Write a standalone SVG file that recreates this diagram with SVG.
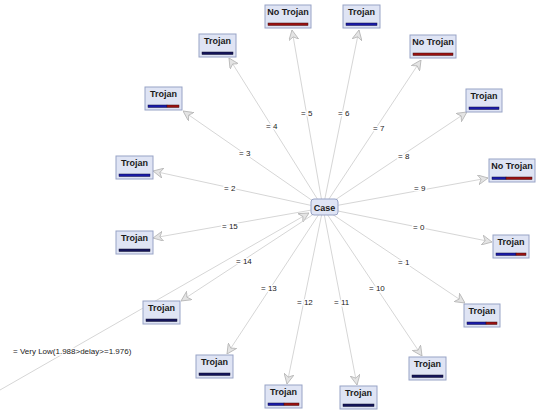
<svg xmlns="http://www.w3.org/2000/svg" width="540" height="413" viewBox="0 0 540 413">
<style>
.e{stroke:#d6d6d6;stroke-width:1;fill:none;marker-end:url(#ah)}
.l{font-family:"Liberation Sans",Arial,sans-serif;font-size:8px;fill:#222;stroke:#fff;stroke-width:3px;paint-order:stroke;stroke-linejoin:round}
.b{fill:#dfe4f4;stroke:#98a3c6;stroke-width:1}
.t{font-family:"Liberation Sans",Arial,sans-serif;font-size:9px;font-weight:bold;fill:#1a1a1a;text-anchor:middle}
.bl{fill:#1a1aa8;stroke:#101040;stroke-width:0.5}
.nv{fill:#14145a;stroke:#101030;stroke-width:0.5}
.rd{fill:#9a1010;stroke:#401010;stroke-width:0.5}
</style>
<defs>
<marker id="ah" viewBox="0 0 10 10" refX="10" refY="5" markerWidth="10" markerHeight="10" markerUnits="userSpaceOnUse" orient="auto">
<path d="M0,0 L10,5 L0,10 L3,5 Z" fill="#e4e4e4" stroke="#b4b4b4" stroke-width="0.8"/>
</marker>
</defs>
<rect width="540" height="413" fill="#fff"/>
<g id="connectors">
<line class="e" x1="0" y1="390" x2="309" y2="213"/>
<line class="e" x1="323" y1="208" x2="292" y2="30"/>
<line class="e" x1="323" y1="208" x2="359" y2="30"/>
<line class="e" x1="323" y1="208" x2="421" y2="60"/>
<line class="e" x1="323" y1="208" x2="229" y2="58"/>
<line class="e" x1="323" y1="208" x2="183" y2="111"/>
<line class="e" x1="323" y1="208" x2="467" y2="112"/>
<line class="e" x1="323" y1="208" x2="153" y2="171"/>
<line class="e" x1="323" y1="208" x2="488" y2="178"/>
<line class="e" x1="323" y1="208" x2="153" y2="238"/>
<line class="e" x1="323" y1="208" x2="492" y2="242"/>
<line class="e" x1="323" y1="208" x2="181" y2="301"/>
<line class="e" x1="323" y1="208" x2="465" y2="303"/>
<line class="e" x1="323" y1="208" x2="227" y2="354"/>
<line class="e" x1="323" y1="208" x2="287" y2="384"/>
<line class="e" x1="323" y1="208" x2="357" y2="385"/>
<line class="e" x1="323" y1="208" x2="422" y2="356"/>
<text class="l" x="13" y="354">= Very Low(1.988&gt;delay&gt;=1.976)</text>
<text class="l" x="301" y="116">= 5</text>
<text class="l" x="338" y="116">= 6</text>
<text class="l" x="266" y="129">= 4</text>
<text class="l" x="373" y="131">= 7</text>
<text class="l" x="239" y="156">= 3</text>
<text class="l" x="398" y="159">= 8</text>
<text class="l" x="224" y="191">= 2</text>
<text class="l" x="414" y="191">= 9</text>
<text class="l" x="222" y="229">= 15</text>
<text class="l" x="413" y="230">= 0</text>
<text class="l" x="236" y="264">= 14</text>
<text class="l" x="398" y="265">= 1</text>
<text class="l" x="261" y="291">= 13</text>
<text class="l" x="369" y="291">= 10</text>
<text class="l" x="297" y="305">= 12</text>
<text class="l" x="334" y="305">= 11</text>
</g>
<g id="case"><rect x="311" y="199" width="27" height="16" rx="3" class="b"/><text class="t" x="324.5" y="210.5">Case</text></g>
<g id="n5"><rect class="b" x="265" y="5" width="46" height="23"/><text class="t" x="288" y="15">No Trojan</text><rect class="rd" x="268" y="23" width="40" height="2.5"/></g>
<g id="n6"><rect class="b" x="343" y="5" width="37" height="23"/><text class="t" x="361.5" y="15">Trojan</text><rect class="bl" x="346" y="23" width="31" height="2.5"/></g>
<g id="n7"><rect class="b" x="410" y="35" width="46" height="23"/><text class="t" x="433" y="45">No Trojan</text><rect class="rd" x="413" y="53" width="40" height="2.5"/></g>
<g id="n4"><rect class="b" x="199" y="34" width="37" height="23"/><text class="t" x="217.5" y="44">Trojan</text><rect class="nv" x="202" y="52" width="31" height="2.5"/></g>
<g id="n3"><rect class="b" x="145" y="87" width="37" height="23"/><text class="t" x="163.5" y="97">Trojan</text><rect class="bl" x="148" y="105" width="19" height="2.5"/><rect class="rd" x="167" y="105" width="12" height="2.5"/></g>
<g id="n8"><rect class="b" x="466" y="89" width="36" height="23"/><text class="t" x="484" y="99">Trojan</text><rect class="bl" x="469" y="107" width="30" height="2.5"/></g>
<g id="n2"><rect class="b" x="116" y="156" width="37" height="23"/><text class="t" x="134.5" y="166">Trojan</text><rect class="bl" x="119" y="174" width="31" height="2.5"/></g>
<g id="n9"><rect class="b" x="489" y="159" width="46" height="23"/><text class="t" x="512" y="169">No Trojan</text><rect class="bl" x="492" y="177" width="14" height="2.5"/><rect class="rd" x="506" y="177" width="26" height="2.5"/></g>
<g id="n15"><rect class="b" x="116" y="231" width="37" height="23"/><text class="t" x="134.5" y="241">Trojan</text><rect class="nv" x="119" y="249" width="31" height="2.5"/></g>
<g id="n0"><rect class="b" x="493" y="235" width="36" height="23"/><text class="t" x="511" y="245">Trojan</text><rect class="bl" x="496" y="253" width="20" height="2.5"/><rect class="rd" x="516" y="253" width="10" height="2.5"/></g>
<g id="n14"><rect class="b" x="143" y="301" width="37" height="23"/><text class="t" x="161.5" y="311">Trojan</text><rect class="nv" x="146" y="319" width="31" height="2.5"/></g>
<g id="n1"><rect class="b" x="464" y="304" width="36" height="23"/><text class="t" x="482" y="314">Trojan</text><rect class="bl" x="467" y="322" width="19" height="2.5"/><rect class="rd" x="486" y="322" width="11" height="2.5"/></g>
<g id="n13"><rect class="b" x="196" y="355" width="37" height="23"/><text class="t" x="214.5" y="365">Trojan</text><rect class="nv" x="199" y="373" width="31" height="2.5"/></g>
<g id="n12"><rect class="b" x="265" y="385" width="37" height="23"/><text class="t" x="283.5" y="395">Trojan</text><rect class="bl" x="268" y="403" width="16" height="2.5"/><rect class="rd" x="284" y="403" width="15" height="2.5"/></g>
<g id="n11"><rect class="b" x="340" y="386" width="37" height="23"/><text class="t" x="358.5" y="396">Trojan</text><rect class="nv" x="343" y="404" width="31" height="2.5"/></g>
<g id="n10"><rect class="b" x="409" y="357" width="37" height="23"/><text class="t" x="427.5" y="367">Trojan</text><rect class="nv" x="412" y="375" width="31" height="2.5"/></g>
</svg>
